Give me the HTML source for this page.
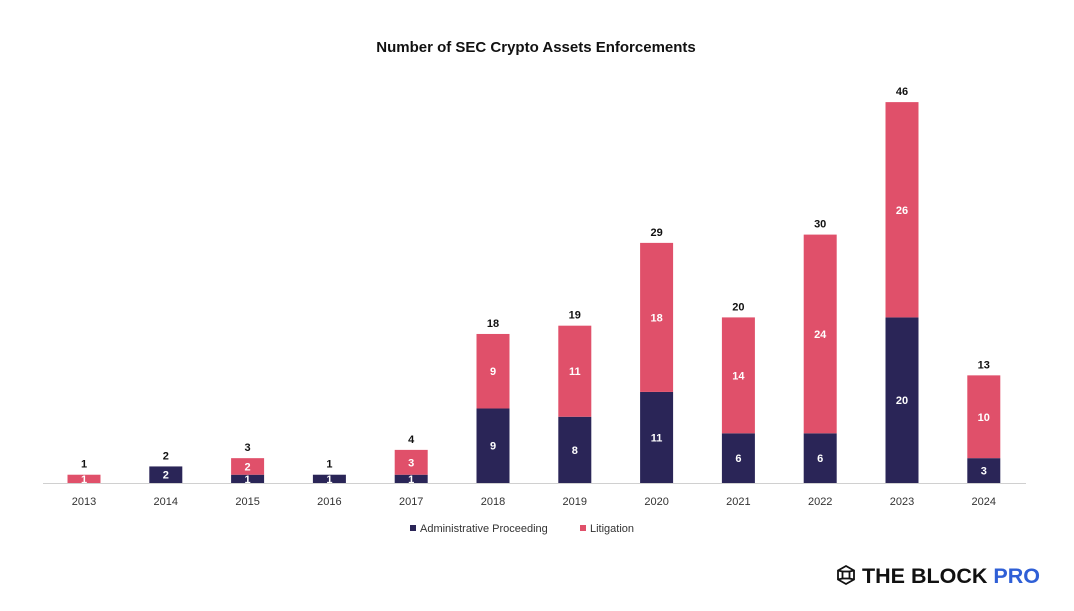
<!DOCTYPE html>
<html><head><meta charset="utf-8"><style>
body{margin:0;background:#fff;width:1074px;height:606px;overflow:hidden;font-family:"Liberation Sans",sans-serif}
</style></head><body>
<svg width="1074" height="606" id="c" font-family="Liberation Sans, sans-serif">
<text x="536" y="52" text-anchor="middle" font-size="15" font-weight="bold" fill="#111">Number of SEC Crypto Assets Enforcements</text>
<line x1="43" y1="483.5" x2="1026" y2="483.5" stroke="#d0d0d0" stroke-width="1"/>
<g id="bars"></g>
<g>
<rect x="410" y="525" width="6" height="6" fill="#2a2557"/>
<text x="420" y="532" font-size="11" fill="#333">Administrative Proceeding</text>
<rect x="580" y="525" width="6" height="6" fill="#e0506a"/>
<text x="590" y="532" font-size="11" fill="#333">Litigation</text>
</g>
<g>
<g transform="translate(846,575)" stroke="#111" stroke-width="1.8" fill="none">
<polygon points="0,-9 8,-4.5 8,4.5 0,9 -8,4.5 -8,-4.5"/>
<rect x="-3.5" y="-3.5" width="7" height="7"/>
<line x1="-8" y1="-4.5" x2="-3.5" y2="-3.5"/><line x1="8" y1="-4.5" x2="3.5" y2="-3.5"/>
<line x1="-8" y1="4.5" x2="-3.5" y2="3.5"/><line x1="8" y1="4.5" x2="3.5" y2="3.5"/>
</g>
<text x="862" y="583" font-size="21.5" font-weight="bold" fill="#111">THE BLOCK <tspan fill="#2f5fd6">PRO</tspan></text>
</g>
</svg>
<script>
const years=["2013","2014","2015","2016","2017","2018","2019","2020","2021","2022","2023","2024"];
const admin=[0,2,1,1,1,9,8,11,6,6,20,3];
const litigation=[1,0,2,0,3,9,11,18,14,24,26,10];
const NS="http://www.w3.org/2000/svg";
const g=document.getElementById('bars');
const base=483, unit=8.28, x0=84, step=81.8, bw=33;
function xs(i){return x0+i*step;}
function ys(v){return v*unit;}
function mk(t,a){const e=document.createElementNS(NS,t);for(const k in a)e.setAttribute(k,a[k]);g.appendChild(e);return e;}
years.forEach((yr,i)=>{
  const cx=xs(i);
  const ha=ys(admin[i]), hl=ys(litigation[i]);
  if(admin[i]>0){
    const r=mk('rect',{x:cx-bw/2,y:base-ha,width:bw,height:ha,fill:'#2a2557'});
    
    
    const t=mk('text',{x:cx,y:base-ha/2+4,'text-anchor':'middle','font-size':11,'font-weight':'bold',fill:'#fff'});
    t.textContent=admin[i];
    
    
  }
  if(litigation[i]>0){
    const r=mk('rect',{x:cx-bw/2,y:base-ha-hl,width:bw,height:hl,fill:'#e0506a'});
    
    
    const t=mk('text',{x:cx,y:base-ha-hl/2+4,'text-anchor':'middle','font-size':11,'font-weight':'bold',fill:'#fff'});
    t.textContent=litigation[i];
    
    
  }
  const tot=mk('text',{x:cx,y:base-ha-hl-7,'text-anchor':'middle','font-size':11,'font-weight':'bold',fill:'#111'});
  tot.textContent=admin[i]+litigation[i];
  
  
  const xl=mk('text',{x:cx,y:505,'text-anchor':'middle','font-size':11,fill:'#333'});
  xl.textContent=yr;
  
  
});
</script>
</body></html>
